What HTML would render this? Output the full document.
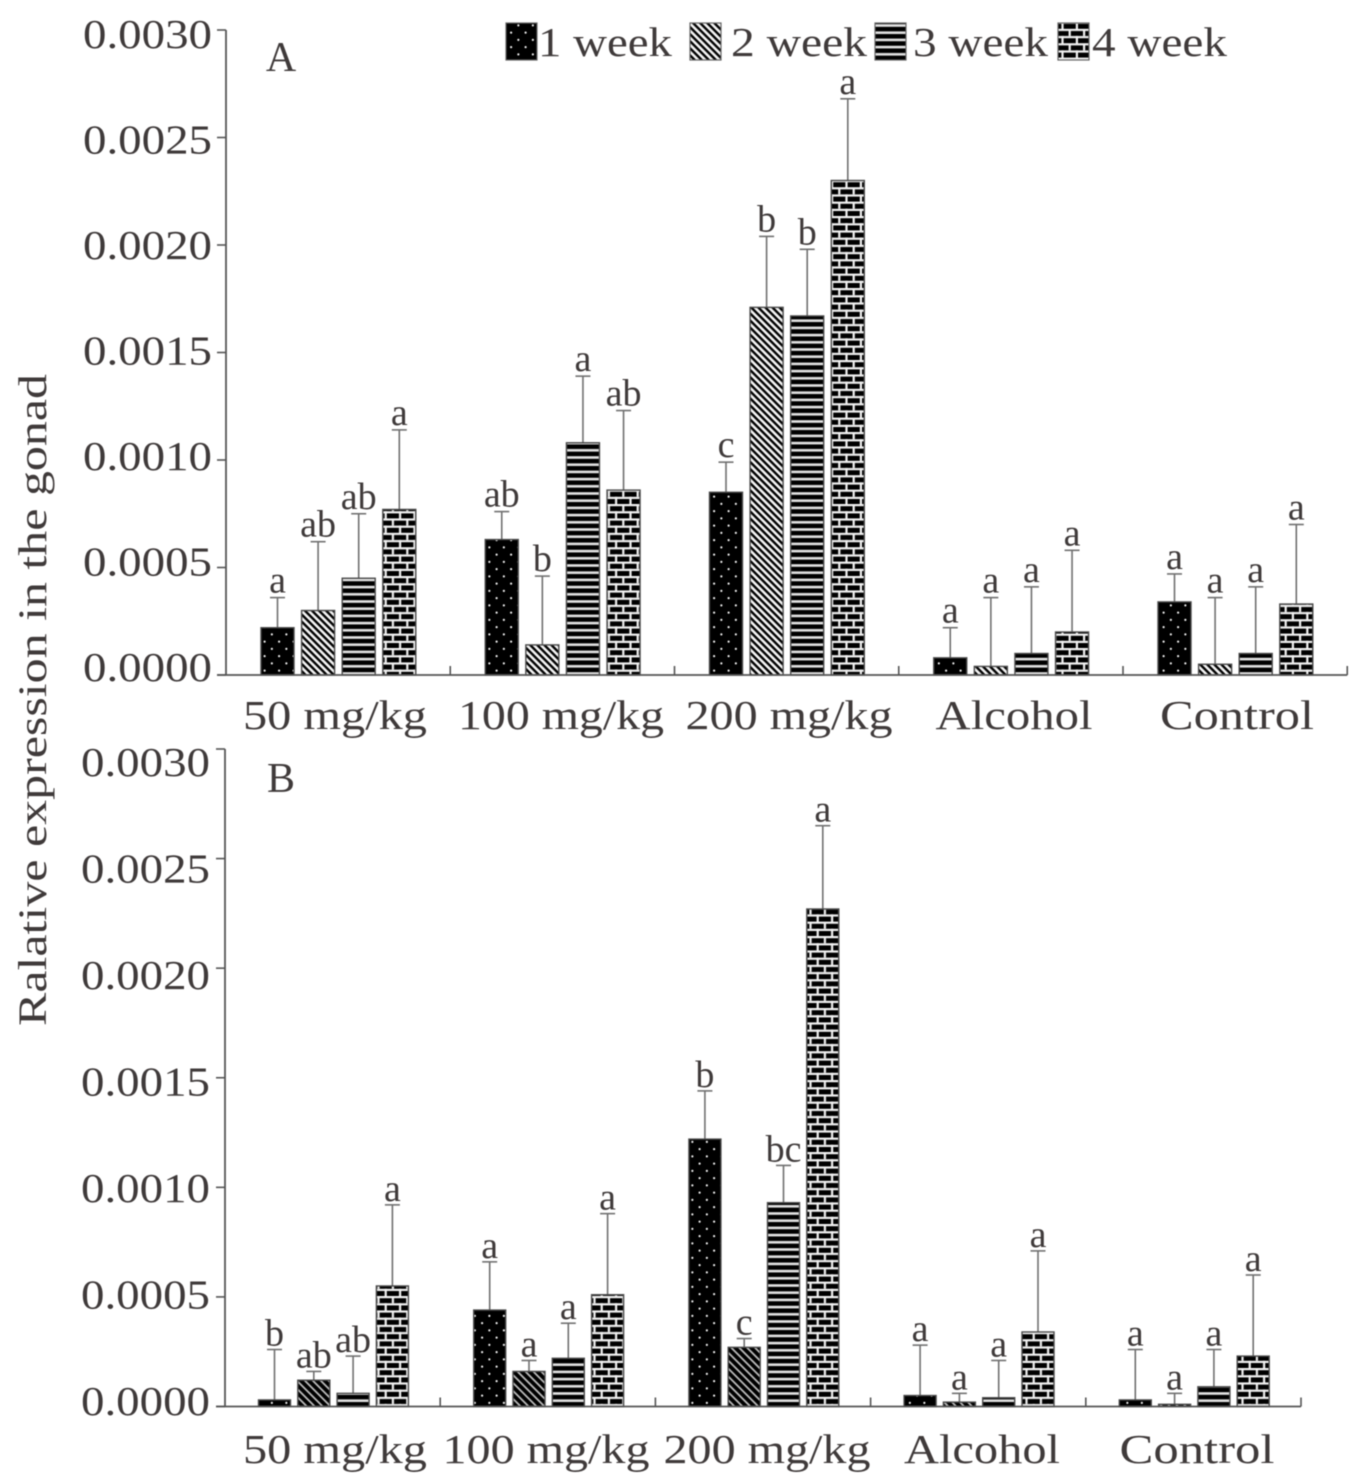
<!DOCTYPE html>
<html>
<head>
<meta charset="utf-8">
<title>Relative expression in the gonad</title>
<style>
html,body{margin:0;padding:0;background:#fff;}
svg{display:block;filter:blur(0.45px);}
text{font-family:"Liberation Serif",serif;fill:#3f3a3a;}
</style>
</head>
<body>
<svg id="chart" xmlns="http://www.w3.org/2000/svg" width="1362" height="1483" viewBox="0 0 1362 1483">
<defs>
<pattern id="p-dots" patternUnits="userSpaceOnUse" width="14.5" height="14.5">
<rect width="14.5" height="14.5" fill="#000"/>
<circle cx="3.6" cy="3.6" r="1.1" fill="#eee"/>
<circle cx="10.85" cy="10.85" r="1.1" fill="#eee"/>
</pattern>
<pattern id="p-diag" patternUnits="userSpaceOnUse" width="5" height="5" patternTransform="rotate(45)">
<rect width="5" height="5" fill="#f4f4f4"/>
<rect width="5" height="2.4" fill="#000"/>
</pattern>
<pattern id="p-diag-b" patternUnits="userSpaceOnUse" width="5.6" height="5.6" patternTransform="rotate(45)">
<rect width="5.6" height="5.6" fill="#bbb"/>
<rect width="5.6" height="3.8" fill="#000"/>
</pattern>
<pattern id="p-lines" patternUnits="userSpaceOnUse" width="14" height="7.2">
<rect width="14" height="7.2" fill="#000"/>
<rect y="2.6" width="14" height="2.6" fill="#e4e4e4"/>
</pattern>
<pattern id="p-brick" patternUnits="userSpaceOnUse" width="14.4" height="14.4">
<rect width="14.4" height="14.4" fill="#000"/>
<rect y="0" width="14.4" height="2.2" fill="#f2f2f2"/>
<rect y="7.2" width="14.4" height="2.2" fill="#f2f2f2"/>
<rect x="3" y="0" width="2.2" height="7.2" fill="#f2f2f2"/>
<rect x="10.2" y="7.2" width="2.2" height="7.2" fill="#f2f2f2"/>
</pattern>
</defs>
<g id="root"></g>
</svg>
<script>
var categories = ['50 mg/kg', '100 mg/kg', '200 mg/kg', 'Alcohol', 'Control'];
var weeks = ['1 week', '2 week', '3 week', '4 week'];
var yTickValues = [0, 0.0005, 0.0010, 0.0015, 0.0020, 0.0025, 0.0030];
var yTickLabels = ['0.0000', '0.0005', '0.0010', '0.0015', '0.0020', '0.0025', '0.0030'];

// Panel A: one row per category, one entry per week
var meansA = [
  [0.00022, 0.00030, 0.00045, 0.00077],
  [0.00063, 0.00014, 0.00108, 0.00086],
  [0.00085, 0.00171, 0.00167, 0.00230],
  [0.00008, 0.00004, 0.00010, 0.00020],
  [0.00034, 0.00005, 0.00010, 0.00033]
];
var upperA = [
  [0.00036, 0.00062, 0.00075, 0.00114],
  [0.00076, 0.00046, 0.00139, 0.00123],
  [0.00099, 0.00204, 0.00198, 0.00268],
  [0.00022, 0.00036, 0.00041, 0.00058],
  [0.00047, 0.00036, 0.00041, 0.00070]
];
var lettersA = [
  ['a', 'ab', 'ab', 'a'],
  ['ab', 'b', 'a', 'ab'],
  ['c', 'b', 'b', 'a'],
  ['a', 'a', 'a', 'a'],
  ['a', 'a', 'a', 'a']
];

// Panel B
var meansB = [
  [0.00003, 0.00012, 0.00006, 0.00055],
  [0.00044, 0.00016, 0.00022, 0.00051],
  [0.00122, 0.00027, 0.00093, 0.00227],
  [0.00005, 0.00002, 0.00004, 0.00034],
  [0.00003, 0.00001, 0.00009, 0.00023]
];
var upperB = [
  [0.00026, 0.00016, 0.00023, 0.00092],
  [0.00066, 0.00021, 0.00038, 0.00088],
  [0.00144, 0.00031, 0.00110, 0.00265],
  [0.00028, 0.00006, 0.00021, 0.00071],
  [0.00026, 0.00006, 0.00026, 0.00060]
];
var lettersB = [
  ['b', 'ab', 'ab', 'a'],
  ['a', 'a', 'a', 'a'],
  ['b', 'c', 'bc', 'a'],
  ['a', 'a', 'a', 'a'],
  ['a', 'a', 'a', 'a']
];

var NS = 'http://www.w3.org/2000/svg';
var root = document.getElementById('root');

function make(tag, attrs, parent) {
  var el = document.createElementNS(NS, tag);
  for (var k in attrs) { el.setAttribute(k, attrs[k]); }
  (parent || root).appendChild(el);
  return el;
}
function fittedText(str, x, y, size, width, anchor, parent) {
  var t = make('text', { x: x, y: y, 'font-size': size, 'text-anchor': anchor, textLength: width, lengthAdjust: 'spacingAndGlyphs' }, parent);
  t.textContent = str;
  return t;
}

function drawPanel(cfg) {
  var g = make('g', {});
  
  

  function y(v) { return cfg.y0 - (v / 0.0030) * (cfg.y0 - cfg.yTop); }
  function labelY(i) { return cfg.labelBase0 - i * cfg.labelStep; }
  function bandX(i) { return cfg.x0 + i * cfg.band; }
  function barX(i, j) { return bandX(i) + cfg.barOffset + j * cfg.barStep; }

  // bars, error bars and letters
  cfg.means.forEach(function (row, i) {
    row.forEach(function (v, j) {
      var x = barX(i, j);
      var cx = x + cfg.barW / 2;
      var errLine = make('line', { x1: cx, x2: cx, y1: y(v), y2: y(cfg.upper[i][j]), stroke: '#707070', 'stroke-width': 1.6 }, g);
      
      
      var cap = make('line', { x1: cx - 7.5, x2: cx + 7.5, y1: y(cfg.upper[i][j]), y2: y(cfg.upper[i][j]), stroke: '#707070', 'stroke-width': 1.6 }, g);
      
      
      var bar = make('rect', { x: x, y: y(v), width: cfg.barW, height: cfg.y0 - y(v), fill: 'url(#' + cfg.fills[j] + ')', stroke: '#4a4a4a', 'stroke-width': 1.4 }, g);
      
      
      var letter = cfg.letters[i][j];
      var lab = make('text', { x: cx, y: y(cfg.upper[i][j]) - cfg.letterGap, 'font-size': 38, 'text-anchor': 'middle' }, g);
      lab.textContent = letter;
      
      
    });
  });

  // axes
  var yAxis = make('line', { x1: cfg.x0, x2: cfg.x0, y1: cfg.yTop, y2: cfg.y0, stroke: '#555', 'stroke-width': 1.8 }, g);
  
  
  var xAxis = make('line', { x1: cfg.x0 - 9, x2: bandX(categories.length), y1: cfg.y0, y2: cfg.y0, stroke: '#555', 'stroke-width': 1.8 }, g);
  
  

  yTickValues.forEach(function (v, i) {
    var tick = make('line', { x1: cfg.x0 - 9, x2: cfg.x0, y1: y(v), y2: y(v), stroke: '#555', 'stroke-width': 1.6 }, g);
    
    
    var lab = fittedText(yTickLabels[i], cfg.labelRight, labelY(i), 41, 129, 'end', g);
    
    
  });

  categories.forEach(function (c, i) {
    var tick = make('line', { x1: bandX(i + 1), x2: bandX(i + 1), y1: cfg.y0 - 9, y2: cfg.y0, stroke: '#555', 'stroke-width': 1.6 }, g);
    
    
    var lab = fittedText(c, cfg.catX[i], cfg.catBase, 41, cfg.catW[i], 'middle', g);
    
    
  });

  var panelLab = make('text', { x: cfg.tagX, y: cfg.tagY, 'font-size': 42, 'text-anchor': 'middle' }, g);
  panelLab.textContent = cfg.tag;
  
  
}

drawPanel({
  name: 'panel-a', tag: 'A', tagX: 281, tagY: 71,
  means: meansA, upper: upperA, letters: lettersA,
  fills: ['p-dots', 'p-diag', 'p-lines', 'p-brick'],
  x0: 226, y0: 675, yTop: 30, band: 224.25, barOffset: 35, barStep: 40.6, barW: 33,
  letterGap: 5, labelBase0: 681, labelStep: 105.5, labelRight: 212,
  catX: [335, 561, 789, 1014, 1237], catW: [184, 206, 207, 157, 154], catBase: 729
});

drawPanel({
  name: 'panel-b', tag: 'B', tagX: 281, tagY: 792,
  means: meansB, upper: upperB, letters: lettersB,
  fills: ['p-dots', 'p-diag-b', 'p-lines', 'p-brick'],
  x0: 225, y0: 1406.5, yTop: 749, band: 215.2, barOffset: 33.5, barStep: 39.3, barW: 32,
  letterGap: 4, labelBase0: 1415, labelStep: 106.5, labelRight: 210,
  catX: [335, 546, 767, 982, 1197], catW: [184, 207, 207, 156, 155], catBase: 1463
});

// legend
var legend = make('g', {});


var legendFills = ['p-dots', 'p-diag', 'p-lines', 'p-brick'];
var legendSwatchX = [506, 690, 875, 1058];
var legendTextX = [538, 731, 913, 1092];
var legendTextW = [134, 136, 135, 135];
weeks.forEach(function (w, j) {
  var sw = make('rect', { x: legendSwatchX[j], y: 23, width: 31, height: 37, fill: 'url(#' + legendFills[j] + ')', stroke: '#666', 'stroke-width': 1.2 }, legend);
  
  
  var t = fittedText(w, legendTextX[j], 56, 41, legendTextW[j], 'start', legend);
  
  
});

// shared y axis title
var yTitle = make('text', { transform: 'translate(46 700) rotate(-90)', 'font-size': 40, 'text-anchor': 'middle', textLength: 652, lengthAdjust: 'spacingAndGlyphs' });
yTitle.textContent = 'Ralative expression in the gonad';


</script>
</body>
</html>
